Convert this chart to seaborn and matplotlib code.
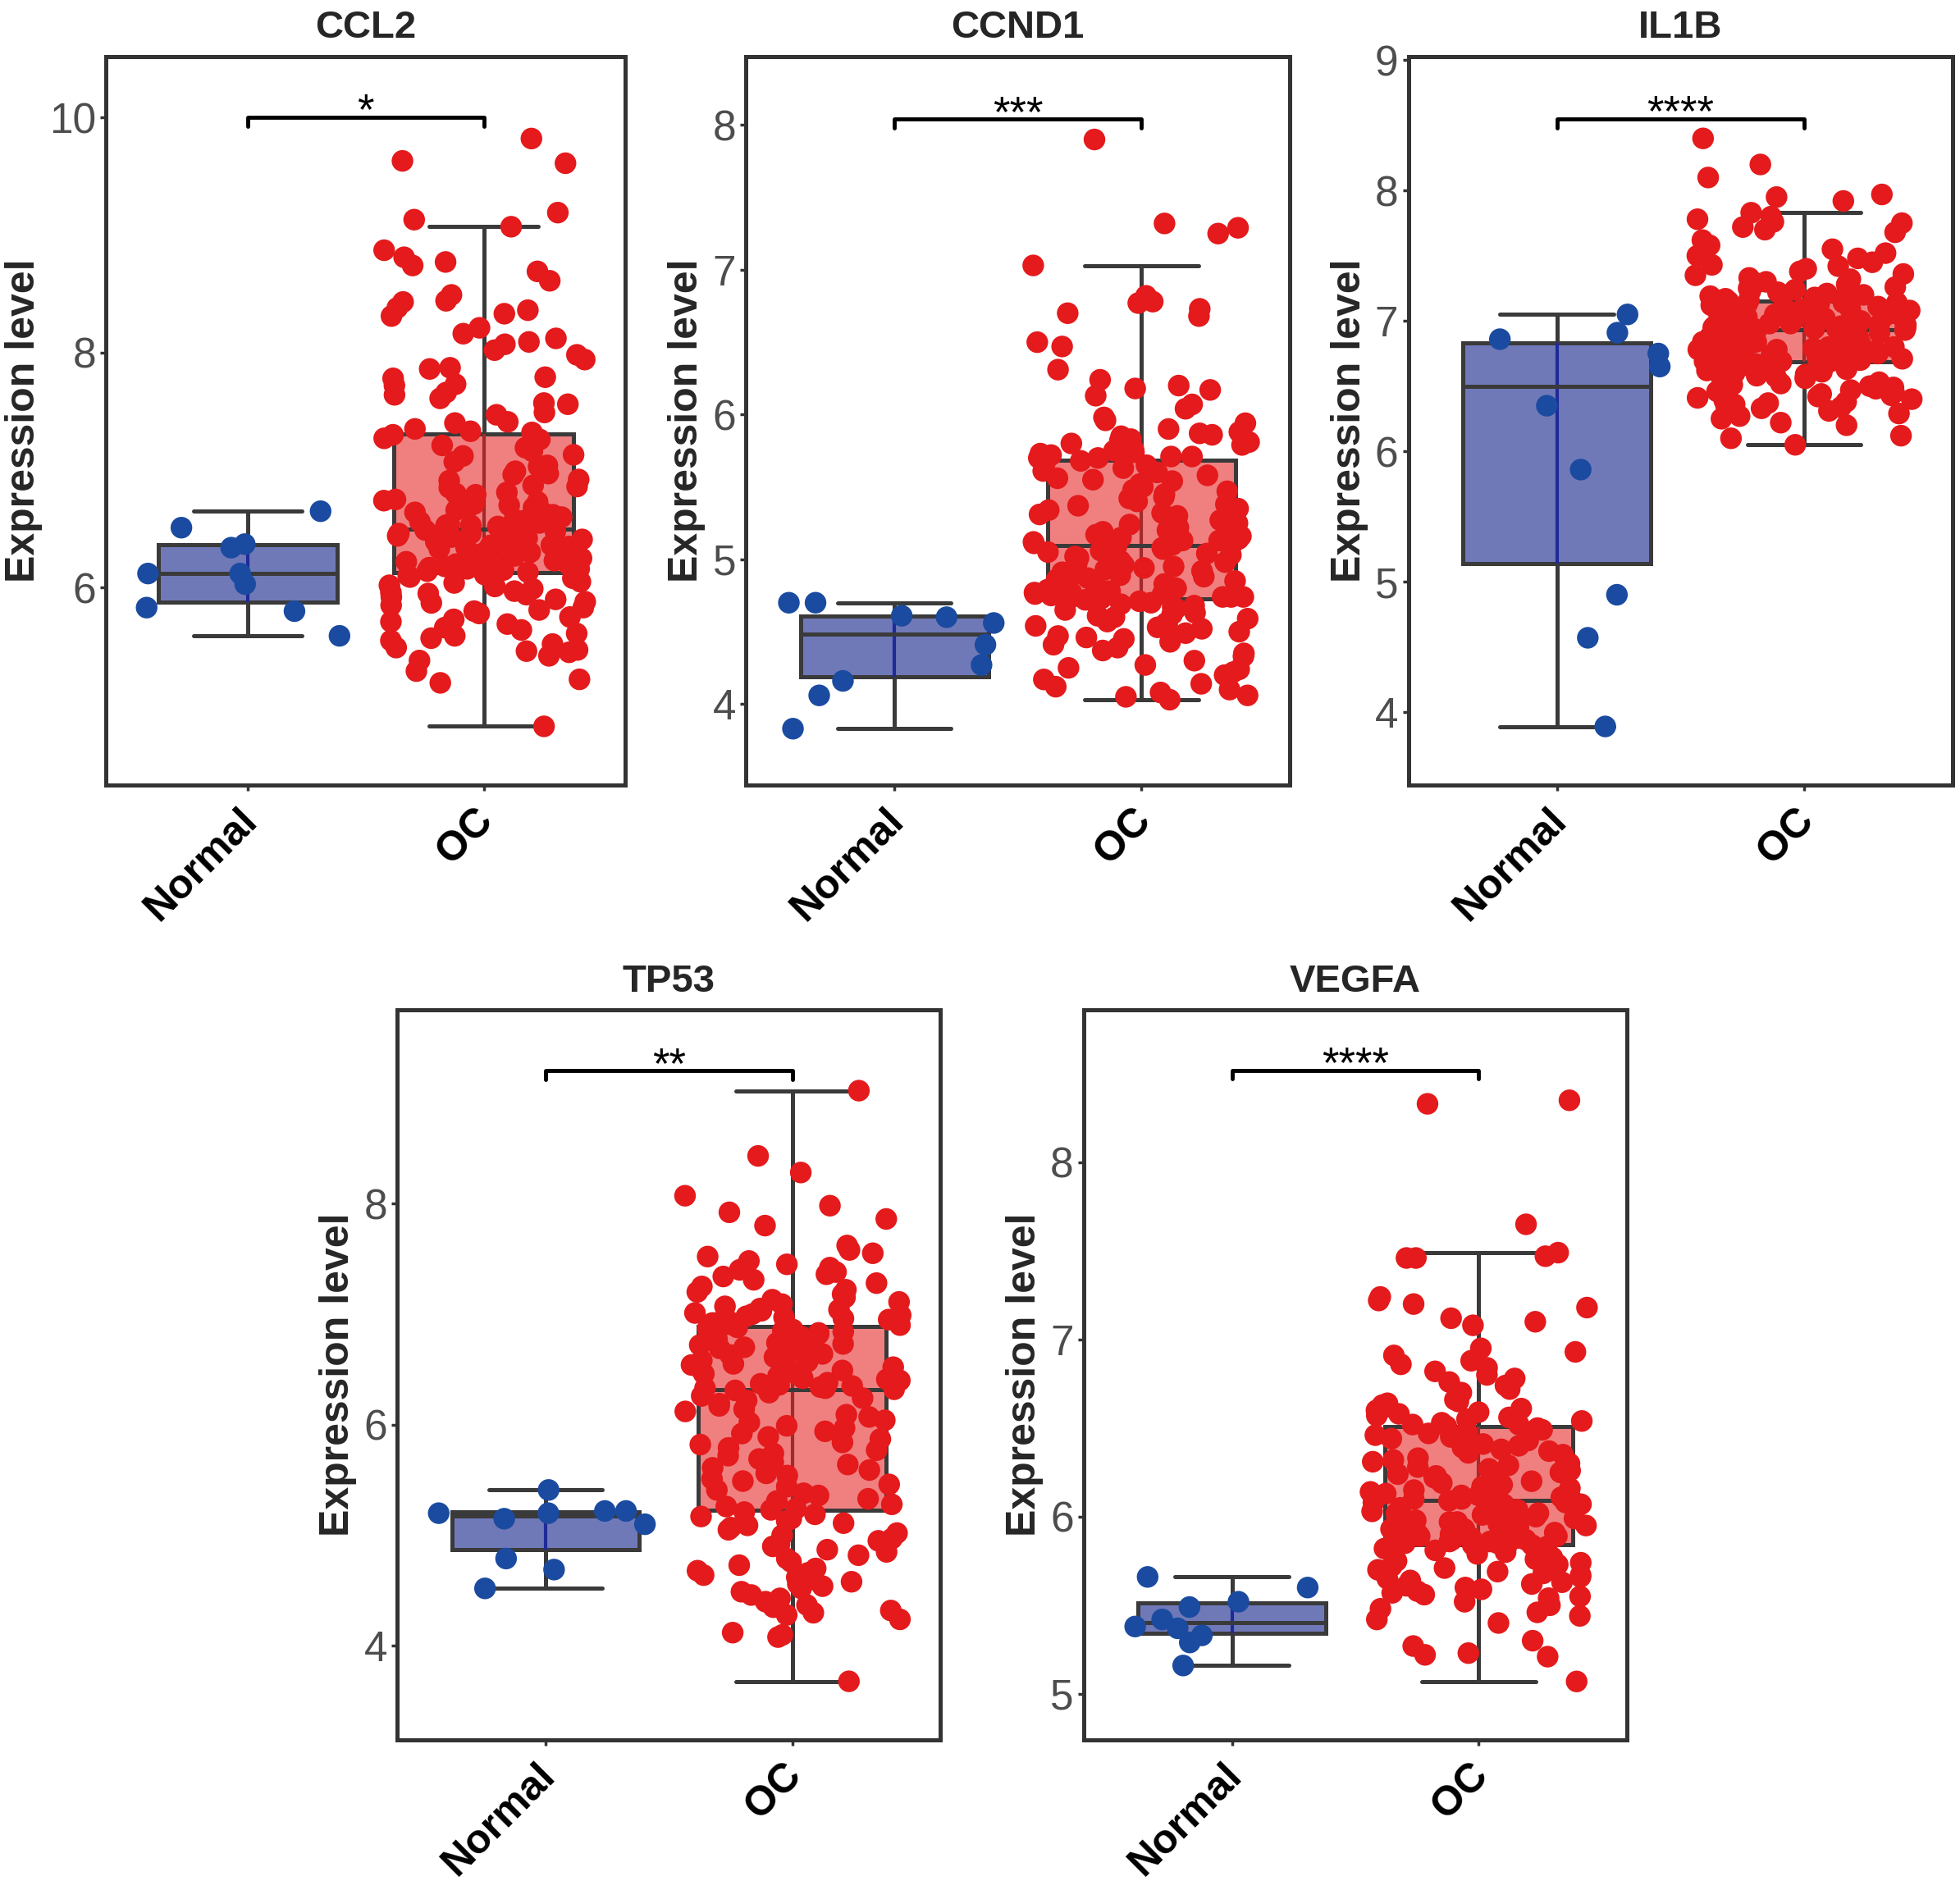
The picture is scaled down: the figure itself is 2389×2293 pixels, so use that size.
import numpy as np
import pandas as pd
import matplotlib
matplotlib.use("Agg")
import matplotlib.pyplot as plt
import matplotlib.transforms as mtransforms
import seaborn as sns
from matplotlib.cbook import boxplot_stats

# ---------------- data ----------------
groups = ["Normal", "OC"]

ccl2_normal = [6.51, 6.12, 6.12, 5.80, 6.34, 6.37, 5.83, 6.03, 5.59, 6.65]
ccl2_oc = [9.82, 9.63, 9.61, 9.19, 9.13, 9.07, 8.87, 8.81, 8.77, 8.74, 8.69, 8.61,
           8.49, 8.44, 8.43, 8.38, 8.36, 8.33, 8.31, 8.21, 8.16, 8.12, 8.09, 8.07,
           8.02, 7.98, 7.94, 7.87, 7.86, 7.79, 7.78, 7.73, 7.72, 7.66, 7.64, 7.61,
           7.57, 7.56, 7.49, 7.47, 7.41, 7.40, 7.35, 7.33, 7.32,
           7.30, 7.27, 7.26, 7.21, 7.19, 7.16, 7.13, 7.12, 7.07, 7.04, 7.03, 6.99,
           6.97, 6.96, 6.92, 6.91, 6.87, 6.86, 6.85, 6.81, 6.80, 6.79, 6.75, 6.74,
           6.73, 6.71, 6.70, 6.68, 6.67, 6.66, 6.64, 6.63, 6.62, 6.60, 6.60, 6.58,
           6.57, 6.56, 6.55, 6.54, 6.53, 6.53, 6.52, 6.51, 6.51,
           6.49, 6.49, 6.48, 6.47, 6.46, 6.46, 6.45, 6.44, 6.43, 6.42, 6.41, 6.40,
           6.39, 6.38, 6.37, 6.36, 6.36, 6.35, 6.34, 6.33, 6.32, 6.31, 6.30, 6.29,
           6.28, 6.27, 6.26, 6.25, 6.25, 6.24, 6.23, 6.22, 6.21, 6.20, 6.19, 6.18,
           6.18, 6.17, 6.16, 6.16, 6.15, 6.15, 6.14, 6.14, 6.13,
           6.12, 6.11, 6.10, 6.09, 6.08, 6.07, 6.05, 6.04, 6.02, 6.01, 5.99, 5.97,
           5.96, 5.95, 5.94, 5.92, 5.90, 5.88, 5.87, 5.85, 5.83, 5.81, 5.80, 5.78,
           5.75, 5.73, 5.71, 5.69, 5.66, 5.64, 5.61, 5.59, 5.57, 5.55, 5.52, 5.49,
           5.47, 5.46, 5.45, 5.42, 5.38, 5.29, 5.22, 5.19, 4.82]

ccnd1_normal = [4.06, 4.60, 4.16, 4.61, 4.70, 4.41, 4.27, 3.83, 4.56, 4.70]
ccnd1_oc = [7.90, 7.32, 7.29, 7.25, 7.03, 6.82, 6.78, 6.77, 6.73, 6.70, 6.68, 6.50,
            6.47, 6.31, 6.24, 6.20, 6.18, 6.17, 6.13, 6.07, 6.04, 5.98, 5.96, 5.94,
            5.90, 5.88, 5.87, 5.86, 5.85, 5.83, 5.82, 5.81, 5.80, 5.79, 5.78, 5.77,
            5.76, 5.75, 5.74, 5.73, 5.72, 5.71, 5.71, 5.70, 5.70,
            5.68, 5.66, 5.65, 5.63, 5.61, 5.60, 5.58, 5.56, 5.55, 5.54, 5.52, 5.50,
            5.48, 5.47, 5.45, 5.43, 5.42, 5.40, 5.38, 5.37, 5.35, 5.34, 5.32, 5.31,
            5.30, 5.28, 5.27, 5.25, 5.24, 5.22, 5.21, 5.20, 5.19, 5.18, 5.17, 5.16,
            5.15, 5.14, 5.13, 5.13, 5.12, 5.12, 5.11, 5.11, 5.10,
            5.09, 5.08, 5.08, 5.07, 5.06, 5.05, 5.04, 5.03, 5.02, 5.01, 5.00, 4.99,
            4.98, 4.97, 4.96, 4.95, 4.94, 4.93, 4.92, 4.91, 4.90, 4.89, 4.88, 4.87,
            4.86, 4.85, 4.84, 4.83, 4.82, 4.81, 4.80, 4.79, 4.78, 4.78, 4.77, 4.77,
            4.76, 4.76, 4.75, 4.75, 4.74, 4.74, 4.74, 4.73, 4.73,
            4.72, 4.71, 4.70, 4.69, 4.68, 4.67, 4.66, 4.65, 4.63, 4.62, 4.61, 4.60,
            4.59, 4.58, 4.57, 4.56, 4.55, 4.54, 4.53, 4.52, 4.50, 4.49, 4.47, 4.46,
            4.45, 4.43, 4.41, 4.39, 4.37, 4.35, 4.33, 4.30, 4.27, 4.25, 4.24, 4.22,
            4.20, 4.17, 4.14, 4.12, 4.10, 4.08, 4.06, 4.05, 4.03]

il1b_normal = [6.91, 6.86, 7.05, 6.75, 6.65, 6.35, 5.86, 4.90, 4.57, 3.89]
il1b_oc = [8.40, 8.20, 8.10, 7.97, 7.95, 7.92, 7.83, 7.80, 7.78, 7.76, 7.75, 7.72,
           7.70, 7.68, 7.62, 7.58, 7.55, 7.52, 7.50, 7.48, 7.45, 7.43, 7.42, 7.40,
           7.38, 7.36, 7.35, 7.33, 7.32, 7.30, 7.29, 7.28, 7.26, 7.25, 7.24, 7.23,
           7.22, 7.21, 7.20, 7.19, 7.18, 7.18, 7.17, 7.16, 7.16,
           7.15, 7.14, 7.14, 7.13, 7.13, 7.12, 7.12, 7.11, 7.11, 7.10, 7.10, 7.09,
           7.09, 7.08, 7.08, 7.07, 7.06, 7.06, 7.05, 7.05, 7.04, 7.04, 7.03, 7.02,
           7.02, 7.01, 7.01, 7.00, 7.00, 6.99, 6.99, 6.98, 6.98, 6.97, 6.97, 6.97,
           6.96, 6.96, 6.96, 6.95, 6.95, 6.95, 6.94, 6.94, 6.94,
           6.93, 6.93, 6.92, 6.92, 6.91, 6.90, 6.90, 6.89, 6.88, 6.88, 6.87, 6.86,
           6.86, 6.85, 6.84, 6.84, 6.83, 6.82, 6.82, 6.81, 6.80, 6.80, 6.79, 6.78,
           6.78, 6.77, 6.76, 6.76, 6.75, 6.75, 6.74, 6.74, 6.73, 6.73, 6.72, 6.72,
           6.71, 6.71, 6.70, 6.70, 6.70, 6.69, 6.69, 6.69, 6.69,
           6.68, 6.67, 6.66, 6.65, 6.64, 6.63, 6.62, 6.61, 6.60, 6.59, 6.58, 6.57,
           6.56, 6.55, 6.54, 6.53, 6.52, 6.51, 6.50, 6.49, 6.48, 6.47, 6.46, 6.45,
           6.44, 6.43, 6.42, 6.41, 6.40, 6.39, 6.38, 6.37, 6.36, 6.35, 6.34, 6.33,
           6.31, 6.29, 6.27, 6.25, 6.22, 6.20, 6.12, 6.10, 6.05]

tp53_normal = [5.41, 5.22, 5.22, 5.20, 5.15, 5.10, 5.20, 4.79, 4.69, 4.52]
tp53_oc = [9.02, 8.43, 8.28, 8.07, 7.98, 7.92, 7.86, 7.80, 7.62, 7.58, 7.55, 7.52,
           7.48, 7.45, 7.42, 7.40, 7.38, 7.36, 7.34, 7.31, 7.28, 7.25, 7.22, 7.20,
           7.18, 7.15, 7.13, 7.11, 7.09, 7.07, 7.05, 7.04, 7.03, 7.01, 7.00, 6.99,
           6.98, 6.97, 6.96, 6.95, 6.94, 6.93, 6.92, 6.91, 6.90,
           6.88, 6.87, 6.86, 6.85, 6.84, 6.83, 6.82, 6.81, 6.80, 6.78, 6.77, 6.76,
           6.74, 6.73, 6.72, 6.70, 6.69, 6.67, 6.66, 6.64, 6.63, 6.61, 6.60, 6.58,
           6.57, 6.55, 6.54, 6.52, 6.51, 6.49, 6.48, 6.46, 6.45, 6.44, 6.42, 6.41,
           6.40, 6.38, 6.37, 6.36, 6.35, 6.34, 6.33, 6.33, 6.32,
           6.31, 6.29, 6.26, 6.24, 6.22, 6.19, 6.17, 6.14, 6.12, 6.09, 6.07, 6.04,
           6.02, 5.99, 5.97, 5.94, 5.92, 5.89, 5.87, 5.84, 5.82, 5.79, 5.77, 5.74,
           5.72, 5.69, 5.66, 5.64, 5.61, 5.59, 5.56, 5.54, 5.51, 5.49, 5.46, 5.44,
           5.41, 5.38, 5.36, 5.33, 5.31, 5.28, 5.26, 5.24, 5.23,
           5.21, 5.19, 5.17, 5.15, 5.13, 5.11, 5.09, 5.07, 5.05, 5.02, 5.00, 4.97,
           4.95, 4.92, 4.90, 4.87, 4.85, 4.82, 4.79, 4.76, 4.73, 4.70, 4.68, 4.66,
           4.64, 4.62, 4.60, 4.58, 4.56, 4.54, 4.52, 4.49, 4.46, 4.43, 4.40, 4.37,
           4.35, 4.32, 4.30, 4.28, 4.24, 4.12, 4.10, 4.08, 3.68]

vegfa_normal = [5.60, 5.42, 5.38, 5.33, 5.16, 5.52, 5.29, 5.49, 5.66, 5.37]
vegfa_oc = [8.35, 8.33, 7.65, 7.49, 7.47, 7.46, 7.46, 7.24, 7.22, 7.20, 7.18, 7.12,
            7.10, 7.08, 6.95, 6.93, 6.91, 6.88, 6.86, 6.84, 6.82, 6.80, 6.78, 6.76,
            6.74, 6.72, 6.70, 6.68, 6.66, 6.65, 6.64, 6.63, 6.62, 6.61, 6.60, 6.59,
            6.58, 6.57, 6.56, 6.55, 6.54, 6.53, 6.52, 6.52, 6.51,
            6.50, 6.49, 6.48, 6.47, 6.46, 6.45, 6.44, 6.43, 6.42, 6.41, 6.40, 6.39,
            6.38, 6.37, 6.36, 6.35, 6.33, 6.32, 6.31, 6.30, 6.29, 6.28, 6.27, 6.26,
            6.25, 6.24, 6.23, 6.22, 6.21, 6.20, 6.19, 6.18, 6.17, 6.16, 6.15, 6.14,
            6.13, 6.12, 6.12, 6.11, 6.11, 6.10, 6.10, 6.09, 6.09,
            6.08, 6.08, 6.07, 6.07, 6.06, 6.06, 6.05, 6.05, 6.04, 6.04, 6.03, 6.02,
            6.02, 6.01, 6.00, 6.00, 5.99, 5.99, 5.98, 5.97, 5.97, 5.96, 5.95, 5.95,
            5.94, 5.93, 5.93, 5.92, 5.91, 5.91, 5.90, 5.89, 5.89, 5.88, 5.88, 5.87,
            5.87, 5.86, 5.86, 5.85, 5.85, 5.85, 5.84, 5.84, 5.84,
            5.83, 5.82, 5.81, 5.80, 5.79, 5.78, 5.77, 5.76, 5.75, 5.74, 5.73, 5.72,
            5.71, 5.70, 5.69, 5.68, 5.67, 5.66, 5.65, 5.64, 5.63, 5.62, 5.61, 5.60,
            5.59, 5.58, 5.57, 5.56, 5.55, 5.54, 5.52, 5.50, 5.48, 5.46, 5.44, 5.42,
            5.40, 5.30, 5.27, 5.23, 5.22, 5.21, 5.07]

genes = ["CCL2", "CCND1", "IL1B", "TP53", "VEGFA"]
normal_values = [ccl2_normal, ccnd1_normal, il1b_normal, tp53_normal, vegfa_normal]
oc_values = [ccl2_oc, ccnd1_oc, il1b_oc, tp53_oc, vegfa_oc]
signif_labels = ["*", "***", "****", "**", "****"]
signif_y = [10.0, 8.04, 8.55, 9.2, 8.52]
y_limits = [(4.32, 10.52), (3.44, 8.475), (3.44, 9.03), (3.15, 9.75), (4.74, 8.86)]
y_ticks = [[6, 8, 10], [4, 5, 6, 7, 8], [4, 5, 6, 7, 8, 9], [4, 6, 8], [5, 6, 7, 8]]

# ---------------- style ----------------
sns.set_theme(style="white")
plt.rcParams["font.family"] = ["Liberation Sans", "DejaVu Sans"]

point_colors = {"Normal": "#1A4BA0", "OC": "#E41A1C"}
box_colors = {"Normal": "#7079B8", "OC": "#F08080"}
inner_colors = {"Normal": "#1F2A99", "OC": "#A32A2A"}
edge = "#3A3A3A"

rects = [
    [0.0542, 0.5826, 0.2648, 0.3875],
    [0.3807, 0.5826, 0.2773, 0.3875],
    [0.7187, 0.5826, 0.2775, 0.3875],
    [0.2028, 0.0750, 0.2770, 0.3881],
    [0.5530, 0.0750, 0.2770, 0.3881],
]

fig = plt.figure(figsize=(23.89, 22.93), dpi=100)
label_shift = mtransforms.ScaledTranslation(-0.12, 0.0, fig.dpi_scale_trans)

for k, gene in enumerate(genes):
    ax = fig.add_axes(rects[k])
    nv, ov = normal_values[k], oc_values[k]
    df = pd.DataFrame({
        "group": ["Normal"] * len(nv) + ["OC"] * len(ov),
        "value": nv + ov,
    })

    # whisker line continuing through the translucent box
    for i, g in enumerate(groups):
        st = boxplot_stats(np.asarray(df.loc[df.group == g, "value"]), whis=1.5)[0]
        ax.vlines(i, st["q1"], st["q3"], color=inner_colors[g], lw=3.0, zorder=2.05)

    sns.boxplot(data=df, x="group", y="value", hue="group", order=groups,
                hue_order=groups, palette=box_colors, saturation=1, width=0.76,
                linewidth=3.6, linecolor=edge, showfliers=False, whis=1.5,
                capwidths=0.46, legend=False, ax=ax, zorder=2)

    np.random.seed(11 + k)
    sns.stripplot(data=df, x="group", y="value", hue="group", order=groups,
                  hue_order=groups, palette=point_colors, jitter=0.44, size=19,
                  linewidth=0, legend=False, ax=ax, zorder=3)

    ax.set_xlim(-0.6, 1.6)
    ax.set_ylim(*y_limits[k])
    ax.set_yticks(y_ticks[k])
    ax.set_yticklabels([str(t) for t in y_ticks[k]])

    # significance bracket
    y0, y1 = y_limits[k]
    yb = signif_y[k]
    tip = 0.012 * (y1 - y0)
    ax.plot([0, 0, 1, 1], [yb - tip, yb, yb, yb - tip], color="black", lw=3.5,
            solid_capstyle="round", solid_joinstyle="round", zorder=4)
    ax.annotate(signif_labels[k], xy=(0.5, yb), xytext=(0, -6),
                textcoords="offset points", ha="center", va="baseline",
                fontsize=38, color="black")

    ax.set_title(gene, fontsize=34, fontweight="bold", pad=16)
    ax.set_xlabel("")
    ax.set_ylabel("Expression level", fontsize=36, fontweight="bold", labelpad=6)

    for sp in ax.spines.values():
        sp.set_visible(True)
        sp.set_color("#333333")
        sp.set_linewidth(3.6)

    ax.tick_params(axis="y", labelsize=37, labelcolor="#4D4D4D", color="#333333",
                   length=5, width=2.5, pad=4, left=True)
    ax.tick_params(axis="x", labelsize=36, labelcolor="black", color="#333333",
                   length=5, width=2.5, pad=9, bottom=True)
    for lab in ax.get_xticklabels():
        lab.set_fontweight("bold")
        lab.set_rotation(45)
        lab.set_ha("right")
        lab.set_va("top")
        lab.set_rotation_mode("anchor")
        lab.set_transform(lab.get_transform() + label_shift)

fig.savefig("out.png", dpi=100, facecolor="white")
